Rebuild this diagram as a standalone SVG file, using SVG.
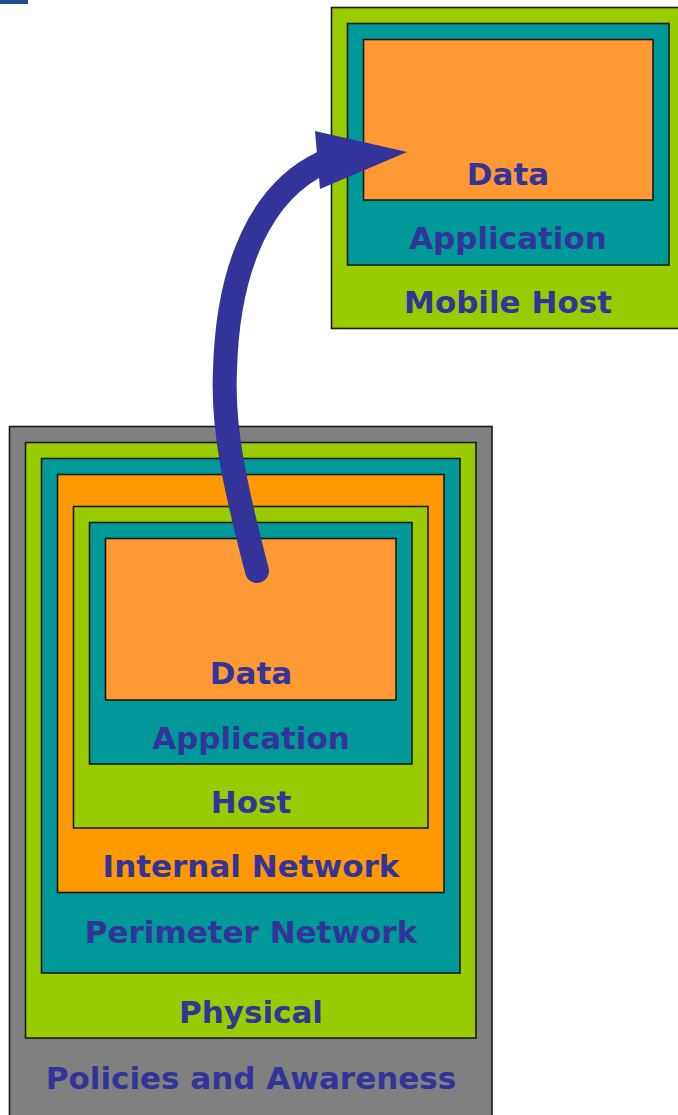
<svg xmlns="http://www.w3.org/2000/svg" width="678" height="1115" viewBox="0 0 678 1115">
  <style>
    .box { stroke: #1a1a1a; stroke-width: 1.6; }
    .gray { fill: #808080; }
    .green { fill: #99CC00; }
    .teal { fill: #009999; }
    .orange { fill: #FF9900; }
    .data { fill: #FF9933; }
    .label { font-family: "DejaVu Sans", Verdana, sans-serif; font-weight: bold; font-size: 31px; fill: #333399; text-anchor: middle; }
  </style>

  <rect x="0" y="0" width="28" height="4" fill="#1f4c8c"/>

  <!-- Layered defence stack -->
  <g id="policies">
    <rect class="box gray" x="9.5" y="426.5" width="482.5" height="700"/>
    <text class="label" x="251" y="1089">Policies and Awareness</text>
  </g>
  <g id="physical">
    <rect class="box green" x="25.5" y="442.5" width="450.5" height="595.5"/>
    <text class="label" x="251" y="1023">Physical</text>
  </g>
  <g id="perimeter-network">
    <rect class="box teal" x="41.5" y="458.5" width="418.5" height="514.5"/>
    <text class="label" x="251" y="943">Perimeter Network</text>
  </g>
  <g id="internal-network">
    <rect class="box orange" x="57.5" y="474.5" width="386.5" height="418"/>
    <text class="label" x="251" y="877">Internal Network</text>
  </g>
  <g id="host">
    <rect class="box green" x="73.5" y="506.5" width="354.5" height="321.5"/>
    <text class="label" x="251" y="813">Host</text>
  </g>
  <g id="application">
    <rect class="box teal" x="89.5" y="522.5" width="322.5" height="241.5"/>
    <text class="label" x="251" y="749">Application</text>
  </g>
  <g id="data">
    <rect class="box data" x="105.5" y="538.5" width="290.5" height="161.5"/>
    <text class="label" x="251" y="684">Data</text>
  </g>

  <!-- Mobile host stack -->
  <g id="mobile-host">
    <rect class="box green" x="331.5" y="7.5" width="360" height="321"/>
    <text class="label" x="508" y="313">Mobile Host</text>
  </g>
  <g id="mobile-application">
    <rect class="box teal" x="347.5" y="23.5" width="321.5" height="241.5"/>
    <text class="label" x="508" y="249">Application</text>
  </g>
  <g id="mobile-data">
    <rect class="box data" x="363.5" y="39.5" width="289.5" height="160.5"/>
    <text class="label" x="508" y="185">Data</text>
  </g>

  <!-- Data flow arrow -->
  <g id="connectors">
    <path d="M257,571 C236,490 222,430 225,370 C228,260 265,190 322,163" fill="none" stroke="#333399" stroke-width="24" stroke-linecap="round"/>
    <polygon points="315,131 407,152 320,189" fill="#333399"/>
  </g>
</svg>
